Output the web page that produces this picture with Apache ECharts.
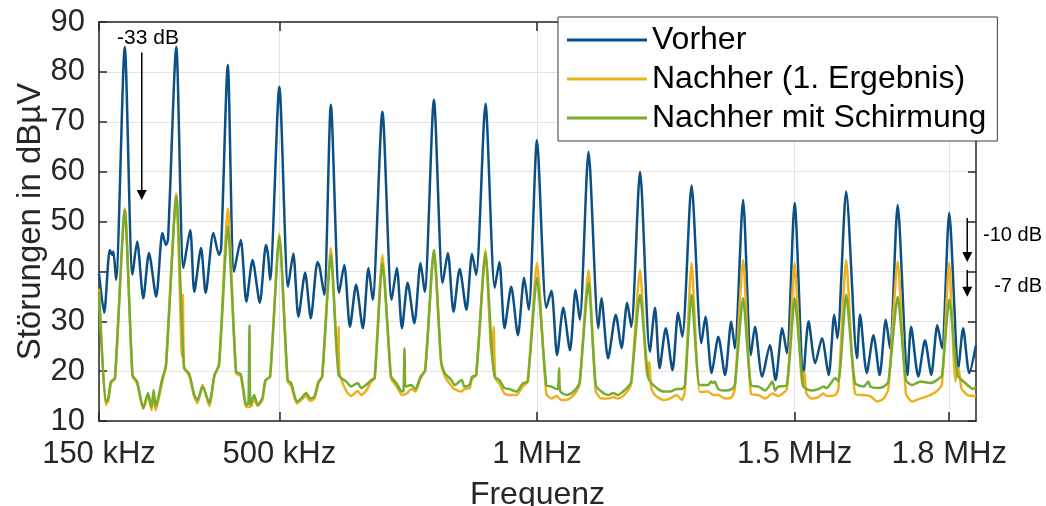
<!DOCTYPE html>
<html>
<head>
<meta charset="utf-8">
<script src="https://cdn.jsdelivr.net/npm/echarts@6/dist/echarts.min.js"></script>
<style>
html, body { margin: 0; padding: 0; background: #fff; }
#chart { width: 1046px; height: 506px; }
</style>
</head>
<body>
<div id="chart"></div>
<script>
// Frequenz in kHz, Pegel in dBµV
const xTicks = [150, 500, 1000, 1500, 1800]
const xTickLabels = ['150 kHz', '500 kHz', '1 MHz', '1.5 MHz', '1.8 MHz']

const vorher = [[150,39.5],[160,31.7],[171,44.3],[176,43.3],[178,44],[183,38.3],[200,85],[215,39.3],[224,46],[236,34.6],[247,43.7],[261,34.9],[273,47.7],[280,45.3],[284,46.5],[300,85],[314,40.7],[327,48.3],[335,35.9],[348,44.7],[357,35.7],[372,47.7],[383,43.3],[387,44.5],[400,81.4],[412,39.9],[425,46.3],[436,33.9],[448,42.3],[462,33.7],[474,45.3],[478,43.4],[482,38.3],[500,77],[517,36.9],[527,43.6],[537,30.9],[550,39.7],[561,30.6],[574,41.9],[578,41],[587,35.3],[600,73.4],[616,35.7],[626,41.3],[637,28.9],[649,37.3],[662,28.6],[673,40.7],[681,34.3],[700,72],[718,34.3],[728,40.7],[738,28.6],[749,37.7],[762,29.6],[774,41.7],[782,35.9],[800,74.4],[817,37.7],[827,43.7],[838,31.9],[850,40.5],[863,32.3],[874,43.5],[882,39.3],[900,73.6],[918,36.7],[927,41.9],[937,28.6],[950,36.9],[963,27.2],[975,38.7],[984,32.3],[1000,66.3],[1018,32.7],[1028,36.1],[1039,23.2],[1051,32.7],[1064,24.2],[1075,36.3],[1083,30.3],[1100,64],[1119,28.6],[1125,34.6],[1138,22.6],[1153,31.3],[1164,24.6],[1175,33.7],[1183,28.9],[1200,60],[1219,23.9],[1229,32.7],[1238,20.6],[1250,28.6],[1263,20.2],[1274,31.7],[1282,26.9],[1300,57.2],[1319,25.6],[1327,30.9],[1339,19.6],[1352,26.9],[1365,19.2],[1377,29.9],[1384,24.6],[1400,54.3],[1415,23.2],[1423,28.9],[1437,18.9],[1452,25.2],[1463,18.2],[1476,28.6],[1485,23.6],[1500,53.7],[1517,19.2],[1527,30],[1540,21.6],[1553,26.6],[1566,19.2],[1577,31.3],[1583,26.6],[1600,56],[1621,22.6],[1627,31.3],[1640,19.6],[1653,27.2],[1665,19.2],[1677,30.3],[1685,24.6],[1700,53.3],[1719,19.2],[1726,28.9],[1740,18.9],[1753,26.2],[1765,19.2],[1777,29.2],[1786,24.6],[1800,51.7],[1818,20.6],[1827,28.6],[1839,19.6],[1852,25.2]]

const nachher = [[150,36.5],[163,13.2],[168,14],[173,17.5],[181,18.5],[200,52.6],[215,19],[224,17.5],[236,12.4],[245,15],[252,12.2],[256,15],[260,12.1],[273,18],[280,21],[300,55.6],[311,23],[313,35.3],[315,21],[325,19],[335,14.8],[341,13.5],[351,17.2],[364,13],[374,19],[383,21.5],[400,52.6],[416,19.5],[425,19],[436,12.8],[446,13],[451,14.5],[458,13],[467,14.2],[473,18],[482,18.9],[500,47.6],[516,18],[523,17],[534,13.5],[542,14.2],[552,15],[560,14],[568,14.5],[576,17.5],[583,18.9],[600,44.7],[613,22],[615,28.9],[617,19.5],[630,16],[639,15],[652,16],[659,15.2],[668,16],[678,17.8],[685,18.6],[700,43.3],[714,22],[717,18.5],[727,17],[738,15.2],[747,15.5],[756,16.4],[764,15.9],[774,18.5],[783,20.2],[800,44.3],[814,21.5],[821,19],[834,17],[840,16.4],[854,15.9],[859,16.4],[869,16.6],[874,18.5],[882,19.2],[900,44.3],[912,23],[916,28.9],[919,18.5],[927,17.5],[937,15.5],[947,15.2],[960,15.2],[973,17],[982,17.9],[1000,41.7],[1018,15.5],[1028,14.5],[1038,15],[1047,14.2],[1057,14.2],[1067,14.8],[1077,16],[1083,17.5],[1100,40.3],[1114,16],[1125,14.5],[1138,14.5],[1148,14.8],[1157,14.5],[1167,15],[1177,16.2],[1183,17.5],[1200,40.3],[1214,19],[1218,21.9],[1222,16.5],[1229,15.2],[1245,14.2],[1258,14.5],[1271,15.2],[1281,14.2],[1287,16],[1300,41.7],[1316,15.8],[1332,15.9],[1342,15.2],[1352,15.2],[1365,14.5],[1378,14.8],[1384,16.5],[1400,42.3],[1415,15.5],[1430,15.2],[1443,14.5],[1457,15.5],[1468,15],[1485,16.5],[1500,41.7],[1515,17],[1519,19.9],[1523,15.5],[1533,14.5],[1546,14.8],[1556,15.5],[1562,15],[1579,15.2],[1585,16.5],[1600,42.3],[1617,15.5],[1634,15.2],[1647,15],[1660,13.9],[1673,14.5],[1682,16.5],[1700,42],[1716,15.5],[1728,13.9],[1744,14.5],[1763,15.2],[1776,16],[1786,17.5],[1800,41.7],[1812,18],[1818,20.6],[1824,16.5],[1836,15.2],[1852,15]]

const schirmung = [[150,35.9],[163,13.9],[168,14.5],[173,17.9],[181,18.6],[200,52.3],[215,19.2],[224,17.9],[236,12.6],[245,15.6],[252,12.8],[256,16.2],[260,12.9],[273,18.6],[280,21.2],[300,55],[315,20.6],[325,19.5],[335,15.2],[341,14.2],[351,16.9],[364,13.6],[374,19.2],[383,21.2],[400,49],[416,19.9],[425,19.4],[436,13.2],[440,13.5],[442,29.2],[444,13.2],[451,15.2],[458,13.2],[467,14.6],[473,18.2],[482,18.9],[500,47],[516,18.2],[523,17.6],[534,13.9],[542,14.5],[552,15.6],[560,14.5],[568,14.9],[576,17.9],[583,18.9],[600,43.3],[615,19.2],[630,17.9],[639,16.9],[652,17.6],[659,16.6],[668,17.2],[678,18.2],[685,18.6],[700,41.7],[714,22.6],[717,18.9],[727,17.6],[738,15.9],[741,16],[743,24.6],[745,16.9],[756,17.2],[764,16.4],[774,18.9],[783,20.2],[800,44.3],[814,21.9],[821,19.6],[834,18.2],[840,17.2],[854,18.2],[859,16.9],[869,17.2],[874,18.9],[882,19.2],[900,43.7],[913,23.2],[918,18.9],[927,18.2],[937,16.6],[947,16.4],[960,15.9],[973,17.6],[982,17.9],[1000,38.7],[1018,17.2],[1028,16.9],[1038,16.4],[1041,16.5],[1043,20.6],[1045,16],[1057,15.2],[1067,15.6],[1077,16.6],[1083,17.9],[1100,37.7],[1114,17.2],[1125,15.9],[1138,15.2],[1148,15.6],[1157,15.2],[1167,15.9],[1177,16.9],[1183,17.9],[1200,35.3],[1216,18.6],[1229,16.9],[1245,15.9],[1258,15.9],[1271,16.4],[1281,16.4],[1287,17.2],[1300,35.3],[1316,17.2],[1332,17.2],[1338,17.9],[1342,17.6],[1345,17.9],[1352,16.4],[1365,16.1],[1378,16.4],[1384,17.2],[1400,34.6],[1415,17.2],[1430,16.9],[1443,16.1],[1457,17.9],[1462,16.1],[1468,16.9],[1485,17.2],[1500,34.6],[1517,16.9],[1533,16.1],[1546,16.4],[1556,16.9],[1562,16.6],[1579,18.6],[1585,17.9],[1600,35.3],[1617,17.6],[1634,16.9],[1643,17.9],[1647,16.9],[1660,16.6],[1673,16.9],[1682,17.9],[1700,34.9],[1716,18.2],[1728,17.2],[1744,17.9],[1763,17.6],[1776,18.2],[1786,19.2],[1800,34.3],[1816,19.2],[1828,17.9],[1847,16.4],[1852,16.9]]

// Pfeile: [Frequenz, von dB, bis dB]
const arrows = [[233, 83.9, 54.3], [1835, 50.7, 41.9], [1835, 40.3, 34.9]]

const font = "'Liberation Sans', Arial, Helvetica, sans-serif"
const axisColor = '#262626'
const xMin = 150
const xMax = 1852

const chart = echarts.init(document.getElementById('chart'))

const frameX = {
  type: 'value',
  min: xMin,
  max: xMax,
  axisLine: { show: true, lineStyle: { color: axisColor, width: 1.5 } },
  axisTick: { show: true, inside: true, length: 9, customValues: xTicks, lineStyle: { color: axisColor, width: 1.5 } }
}
const frameY = {
  type: 'value',
  min: 10,
  max: 90,
  interval: 10,
  axisLine: { show: true, lineStyle: { color: axisColor, width: 1.5 } },
  axisTick: { show: true, inside: true, length: 8, lineStyle: { color: axisColor, width: 1.5 } }
}

chart.setOption({
  animation: false,
  textStyle: { fontFamily: font },
  grid: { left: 99, right: 70, top: 22, bottom: 85, outerBoundsMode: 'none', containLabel: false },
  legend: {
    orient: 'vertical',
    left: 558,
    top: 17,
    padding: [7, 11, 7, 9],
    itemGap: 7,
    itemWidth: 80,
    itemHeight: 3,
    icon: 'rect',
    backgroundColor: '#fff',
    borderColor: '#3a3a3a',
    borderWidth: 1,
    textStyle: { fontSize: 32, color: '#000', fontFamily: font }
  },
  xAxis: [
    Object.assign({}, frameX, {
      position: 'bottom',
      name: 'Frequenz',
      nameLocation: 'middle',
      nameGap: 58,
      nameMoveOverlap: false,
      nameTextStyle: { fontSize: 32, color: axisColor, fontFamily: font },
      axisLabel: {
        customValues: xTicks,
        margin: 18,
        fontSize: 31,
        color: axisColor,
        fontFamily: font,
        formatter: v => xTickLabels[xTicks.indexOf(v)]
      },
      splitLine: { show: true, lineStyle: { color: '#e3e3e3', width: 1 } }
    }),
    Object.assign({}, frameX, {
      position: 'top',
      axisLabel: { show: false },
      splitLine: { show: false }
    })
  ],
  yAxis: [
    Object.assign({}, frameY, {
      position: 'left',
      name: 'Störungen in dBµV',
      nameLocation: 'middle',
      nameGap: 52,
      nameMoveOverlap: false,
      nameRotate: 90,
      nameTextStyle: { fontSize: 33, color: axisColor, fontFamily: font },
      axisLabel: { margin: 14, fontSize: 31, color: axisColor, fontFamily: font },
      splitLine: { show: true, lineStyle: { color: '#e3e3e3', width: 1 } }
    }),
    Object.assign({}, frameY, {
      position: 'right',
      axisLabel: { show: false },
      splitLine: { show: false }
    })
  ],
  series: [
    {
      name: 'Vorher',
      type: 'line',
      data: vorher,
      showSymbol: false,
      smooth: 0.25,
      color: '#0b4f85',
      lineStyle: { width: 2.5 },
      z: 2
    },
    {
      name: 'Nachher (1. Ergebnis)',
      type: 'line',
      data: nachher,
      showSymbol: false,
      smooth: 0.2,
      color: '#edb120',
      lineStyle: { width: 2.5 },
      z: 3
    },
    {
      name: 'Nachher mit Schirmung',
      type: 'line',
      data: schirmung,
      showSymbol: false,
      smooth: 0.2,
      color: '#77ac30',
      lineStyle: { width: 2.5 },
      z: 4
    }
  ]
})

// Anmerkungen (Pfeile und dB-Texte)
const px = (f, v) => chart.convertToPixel({ xAxisIndex: 0, yAxisIndex: 0 }, [f, v])
const graphics = []
arrows.forEach(a => {
  const p1 = px(a[0], a[1])
  const p2 = px(a[0], a[2])
  graphics.push({
    type: 'line',
    shape: { x1: p1[0], y1: p1[1], x2: p2[0], y2: p2[1] - 8 },
    style: { stroke: '#000', lineWidth: 1.5 },
    z: 10
  })
  graphics.push({
    type: 'polygon',
    shape: { points: [[p2[0] - 5, p2[1] - 10], [p2[0] + 5, p2[1] - 10], [p2[0], p2[1]]] },
    style: { fill: '#000' },
    z: 10
  })
})
const t1 = px(245, 86.7)
const t2 = px(1835, 47.1)
const t3 = px(1835, 36.9)
graphics.push({ type: 'text', x: t1[0], y: t1[1], style: { text: '-33 dB', fontSize: 21, fontFamily: font, fill: '#000', align: 'center', verticalAlign: 'middle' }, z: 10 })
graphics.push({ type: 'text', x: 1042, y: t2[1], style: { text: '-10 dB', fontSize: 20, fontFamily: font, fill: '#000', align: 'right', verticalAlign: 'middle' }, z: 10 })
graphics.push({ type: 'text', x: 1042, y: t3[1], style: { text: '-7 dB', fontSize: 20, fontFamily: font, fill: '#000', align: 'right', verticalAlign: 'middle' }, z: 10 })
chart.setOption({ graphic: graphics })
</script>
</body>
</html>
